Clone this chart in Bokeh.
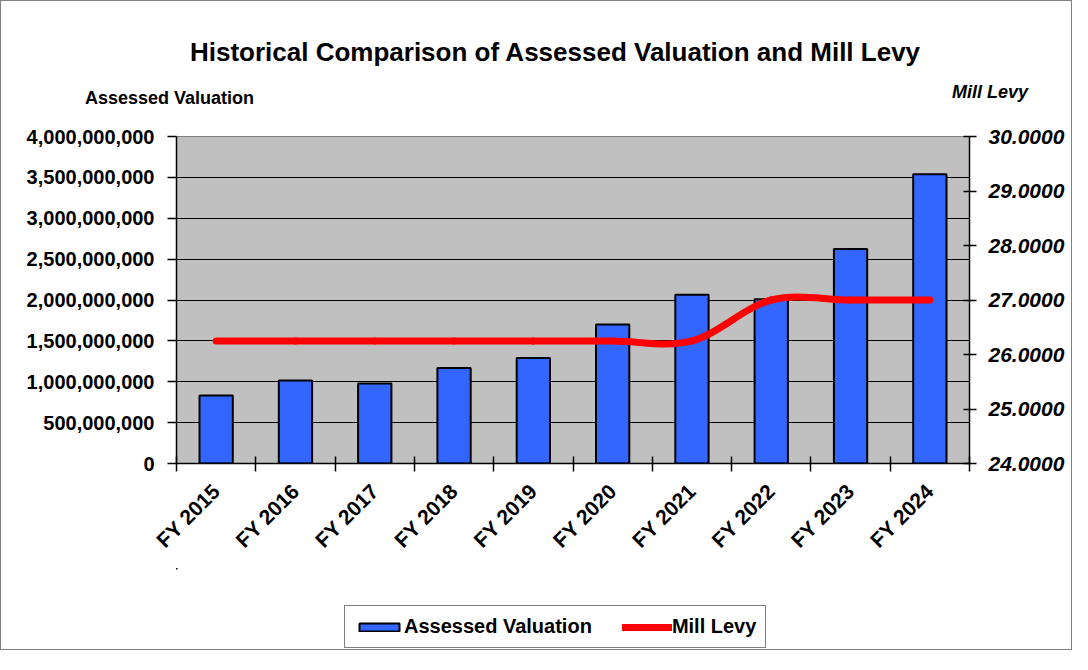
import numpy as np
from bokeh.plotting import figure
from bokeh.layouts import column
from bokeh.models import (Range1d, LinearAxis, FixedTicker, NumeralTickFormatter,
                          Legend, LegendItem, Div, ColumnDataSource, BoxAnnotation)
from bokeh.embed import file_html
from bokeh.resources import INLINE

# ---- data ----
years = ["FY 2015", "FY 2016", "FY 2017", "FY 2018", "FY 2019",
         "FY 2020", "FY 2021", "FY 2022", "FY 2023", "FY 2024"]
assessed_valuation = [833_000_000, 1_016_000_000, 980_000_000, 1_167_000_000, 1_290_000_000,
                      1_700_000_000, 2_065_000_000, 2_008_000_000, 2_624_000_000, 3_539_000_000]
mill_levy = [26.25, 26.25, 26.25, 26.25, 26.25, 26.25, 26.25, 27.0, 27.0, 27.0]
left_ticks = [0, 500_000_000, 1_000_000_000, 1_500_000_000, 2_000_000_000,
              2_500_000_000, 3_000_000_000, 3_500_000_000, 4_000_000_000]
right_ticks = [24, 25, 26, 27, 28, 29, 30]
title_text = "Historical Comparison of Assessed Valuation and Mill Levy"
left_title = "Assessed Valuation"
right_title = "Mill Levy"
series_names = ["Assessed Valuation", "Mill Levy"]

FONT = "Liberation Sans"
W = 1070          # inner width (border adds 2px)
TOP_H = 120
MAIN_H = 447
LEG_H = 81
BAR_COLOR = "#3366FF"
LINE_COLOR = "#FF0000"

xs = np.arange(1, len(years) + 1, dtype=float)
src = ColumnDataSource(data=dict(x=xs, av=assessed_valuation, levy=mill_levy))

# ---------------- header (titles as real HTML text) ----------------
header_html = f"""
<div style="position:relative;width:{W}px;height:{TOP_H}px;font-family:'{FONT}';color:black;">
  <div style="position:absolute;left:154px;top:36px;width:800px;text-align:center;
              font-size:26px;line-height:30px;font-weight:bold;white-space:nowrap;">{title_text}</div>
  <div style="position:absolute;left:84px;top:86px;font-size:18px;line-height:22px;
              font-weight:bold;white-space:nowrap;">{left_title}</div>
  <div style="position:absolute;left:951px;top:80px;font-size:18px;line-height:22px;
              font-weight:bold;font-style:italic;white-space:nowrap;">{right_title}</div>
</div>
"""
header = Div(text=header_html, width=W, height=TOP_H, margin=0)

# ---------------- main chart ----------------
p = figure(width=W, height=MAIN_H, output_backend="svg", toolbar_location=None,
           x_range=Range1d(0.5, len(years) + 0.5), y_range=Range1d(0, 4_000_000_000),
           min_border_left=175, min_border_right=102, min_border_top=15,
           min_border_bottom=MAIN_H - 15 - 327)
p.background_fill_color = "#C0C0C0"
p.border_fill_color = "white"
p.outline_line_color = "#808080"
p.extra_y_ranges = {"levy": Range1d(24, 30)}

p.xgrid.visible = False
p.ygrid.ticker = FixedTicker(ticks=left_ticks)
p.ygrid.grid_line_color = "black"
p.ygrid.grid_line_width = 1.2

ya = p.yaxis[0]
ya.ticker = FixedTicker(ticks=left_ticks)
ya.formatter = NumeralTickFormatter(format="0,0")
ya.axis_line_color = "black"
ya.axis_line_width = 1.5
ya.major_tick_in = 0
ya.major_tick_out = 9
ya.major_tick_line_color = "black"
ya.major_tick_line_width = 1.5
ya.minor_tick_line_color = None
ya.major_label_text_font = FONT
ya.major_label_text_font_style = "bold"
ya.major_label_text_font_size = "20px"
ya.major_label_text_color = "black"
ya.major_label_standoff = 13

ra = LinearAxis(y_range_name="levy", ticker=FixedTicker(ticks=right_ticks),
                formatter=NumeralTickFormatter(format="0.0000"))
ra.axis_line_color = "black"
ra.axis_line_width = 1.5
ra.major_tick_in = 6
ra.major_tick_out = 7
ra.major_tick_line_color = "black"
ra.major_tick_line_width = 1.5
ra.minor_tick_line_color = None
ra.major_label_text_font = FONT
ra.major_label_text_font_style = "bold italic"
ra.major_label_text_font_size = "21px"
ra.major_label_text_color = "black"
ra.major_label_standoff = 12
p.add_layout(ra, "right")

xa = p.xaxis[0]
xa.ticker = FixedTicker(ticks=list(xs), minor_ticks=list(np.arange(0.5, len(years) + 1, 1.0)))
xa.major_label_overrides = {float(x): y for x, y in zip(xs, years)}
xa.major_label_orientation = np.pi / 4
xa.major_tick_in = 0
xa.major_tick_out = 0
xa.minor_tick_in = 7
xa.minor_tick_out = 8
xa.minor_tick_line_color = "black"
xa.minor_tick_line_width = 1.5
xa.axis_line_color = "black"
xa.axis_line_width = 1.5
xa.major_label_text_font = FONT
xa.major_label_text_font_style = "bold"
xa.major_label_text_font_size = "21px"
xa.major_label_text_color = "black"
xa.major_label_standoff = 16

bars = p.vbar(x="x", top="av", width=0.42, bottom=0, source=src,
              fill_color=BAR_COLOR, line_color="black", line_width=2)

# smoothed mill levy line (Catmull-Rom -> cubic Bezier control points, from the data)
lv = np.array(mill_levy, dtype=float)
prev_y = np.concatenate([[lv[0]], lv[:-2]])
next_y = np.concatenate([lv[2:], [lv[-1]]])
prev_x = np.concatenate([[xs[0]], xs[:-2]])
next_x = np.concatenate([xs[2:], [xs[-1]]])
x0, y0 = xs[:-1], lv[:-1]
x1, y1 = xs[1:], lv[1:]
cx0 = x0 + (x1 - prev_x) / 6.0
cy0 = y0 + (y1 - prev_y) / 6.0
cx1 = x1 - (next_x - x0) / 6.0
cy1 = y1 - (next_y - y0) / 6.0
curve = p.bezier(x0=x0, y0=y0, x1=x1, y1=y1, cx0=cx0, cy0=cy0, cx1=cx1, cy1=cy1,
                 line_color=LINE_COLOR, line_width=7, line_cap="round",
                 y_range_name="levy")

# ---------------- legend strip: same series, plotted out of view, only the legend shows ----------------
lg = figure(width=W, height=LEG_H, output_backend="svg", toolbar_location=None,
            x_range=Range1d(20, 21), y_range=Range1d(-2e10, -1.9e10),
            min_border_top=0, min_border_bottom=0,
            x_axis_location=None, y_axis_location=None)
lg.grid.visible = False
lg.outline_line_color = None
lg.background_fill_color = "white"
lg.border_fill_color = "white"
leg_bar = lg.vbar(x="x", top="av", width=0.42, bottom=0, source=src,
                  fill_color=BAR_COLOR, line_color="black", line_width=2)
leg_line = lg.line(x="x", y="levy", source=src,
                   line_color=LINE_COLOR, line_width=7, line_cap="round")
# white cover over the strip's plotting area (hides any stray edge pixel)
lg.add_layout(BoxAnnotation(fill_color="white", fill_alpha=1.0, line_color=None))
legend = Legend(items=[LegendItem(label=series_names[0], renderers=[leg_bar]),
                       LegendItem(label=series_names[1], renderers=[leg_line])],
                orientation="horizontal", location=(168, 1),
                glyph_width=50, glyph_height=10, label_standoff=0, spacing=30,
                padding=9, margin=0,
                label_text_font=FONT, label_text_font_style="bold",
                label_text_font_size="20px", label_text_color="black",
                border_line_color="black", border_line_width=1.2,
                background_fill_color="white", background_fill_alpha=1)
lg.add_layout(legend, "center")

layout = column(header, p, lg, spacing=0, styles={"border": "1px solid #808080"})

open("out.html", "w").write(file_html(layout, INLINE))
